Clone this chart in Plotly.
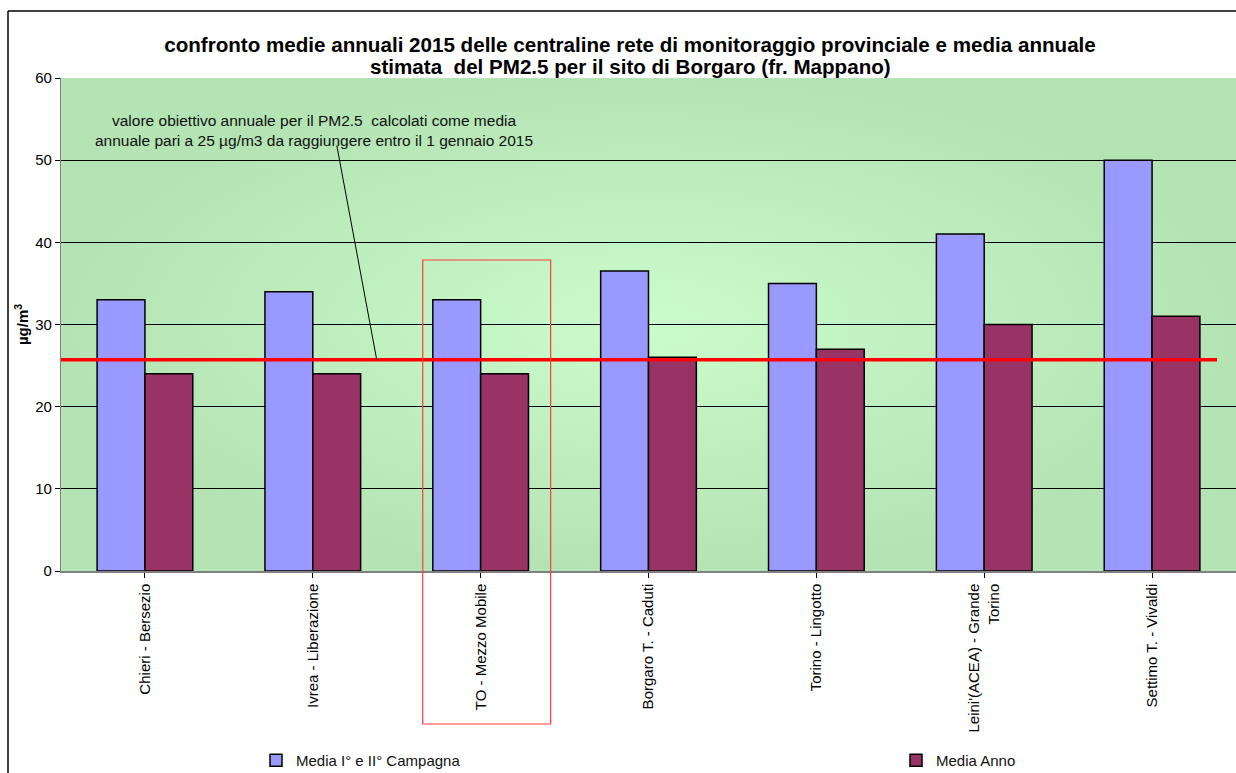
import base64
import plotly.graph_objects as go

# ---- data ----
categories = [
    "Chieri - Bersezio",
    "Ivrea - Liberazione",
    "TO - Mezzo Mobile",
    "Borgaro T. - Caduti",
    "Torino - Lingotto",
    "Leini'(ACEA) - Grande<br>Torino",
    "Settimo T. - Vivaldi",
]
media_campagne = [33, 34, 33, 36.5, 35, 41, 50]
media_anno = [24, 24, 24, 26, 27, 30, 31]
valore_obiettivo_linea = 25.7
y_ticks = [0, 10, 20, 30, 40, 50, 60]

title_line1 = "confronto medie annuali 2015 delle centraline rete di monitoraggio provinciale e media annuale"
title_line2 = "stimata  del PM2.5 per il sito di Borgaro (fr. Mappano)"
note_text = ("valore obiettivo annuale per il PM2.5  calcolati come media<br>"
             "annuale pari a 25 µg/m3 da raggiungere entro il 1 gennaio 2015")

x_idx = list(range(len(categories)))

W, H = 1236, 773
L, R, T, B = 61, 0, 78, 202
PW, PH = W - L - R, H - T - B


def px_x(px):
    return (px - L) / PW


def px_y(py):
    return (H - B - py) / PH


# radial gradient background for the plot area
svg = ('<svg xmlns="http://www.w3.org/2000/svg" width="1175" height="493" viewBox="0 0 1175 493" preserveAspectRatio="none">'
       '<defs><radialGradient id="g" cx="50%" cy="50%" r="50%">'
       '<stop offset="0%" stop-color="#cbfccb"/><stop offset="100%" stop-color="#b4e3b4"/>'
       '</radialGradient></defs><rect width="1175" height="493" fill="url(#g)"/></svg>')
bg_src = "data:image/svg+xml;base64," + base64.b64encode(svg.encode()).decode()

fig = go.Figure()
fig.add_trace(go.Bar(
    x=x_idx, y=media_campagne, name="Media I° e II° Campagna",
    marker=dict(color="#9999ff", line=dict(color="#000000", width=1.5)),
    legend="legend",
))
fig.add_trace(go.Bar(
    x=x_idx, y=media_anno, name="Media Anno",
    marker=dict(color="#993366", line=dict(color="#000000", width=1.5)),
    legend="legend2",
))

legend_common = dict(orientation="h", xanchor="left", yanchor="top",
                     font=dict(size=15, color="#111111"), itemwidth=30,
                     bgcolor="rgba(0,0,0,0)")

fig.update_layout(
    width=W, height=H,
    margin=dict(l=L, r=R, t=T, b=B, autoexpand=False),
    paper_bgcolor="white",
    plot_bgcolor="#bde9bd",
    barmode="group",
    bargap=0.43,
    bargroupgap=0,
    font=dict(family="Liberation Sans, Arial, sans-serif", size=14, color="#000000"),
    title=dict(text="<b>" + title_line1 + "</b>", x=px_x(630), xref="paper", xanchor="center",
               y=1 - 45 / H, yref="container", yanchor="middle",
               font=dict(size=20.6, color="#000000")),
    showlegend=True,
    legend=dict(x=px_x(256), y=px_y(744), **legend_common),
    legend2=dict(x=px_x(896), y=px_y(744), **legend_common),
    images=[dict(source=bg_src, xref="paper", yref="paper", x=0, y=1,
                 sizex=1, sizey=1, sizing="stretch", layer="below")],
)

fig.update_xaxes(
    tickmode="array", tickvals=x_idx, ticktext=categories,
    tickangle=-90, tickson="boundaries", ticks="outside", ticklen=5,
    tickcolor="#000000", range=[-0.5, len(categories) - 0.5],
    showline=True, linecolor="#808080", linewidth=1.5,
    showgrid=False, tickfont=dict(size=15),
)
fig.update_yaxes(
    range=[0, 60], tickvals=y_ticks, ticks="outside", ticklen=5,
    tickcolor="#000000", showline=True, linecolor="#808080", linewidth=1.2,
    showgrid=True, gridcolor="#000000", gridwidth=1, zeroline=False,
    tickfont=dict(size=15),
    title=dict(text="<b>µg/m<sup>3</sup></b>", font=dict(size=15), standoff=2),
)

# second title line
fig.add_annotation(text="<b>" + title_line2 + "</b>", xref="paper", yref="paper",
                   x=px_x(630), y=px_y(66), showarrow=False, xanchor="center",
                   yanchor="middle", font=dict(size=20.6, color="#000000"))

# target line
fig.add_shape(type="line", xref="paper", yref="y", x0=0, x1=px_x(1217),
              y0=valore_obiettivo_linea, y1=valore_obiettivo_linea,
              line=dict(color="#ff0000", width=3.5))
# callout line
fig.add_shape(type="line", xref="x", yref="y", x0=1.143, y0=51.8, x1=1.381,
              y1=valore_obiettivo_linea, line=dict(color="#000000", width=1))
fig.add_annotation(text=note_text, xref="x", yref="y", x=1.01, y=53.6,
                   showarrow=False, xanchor="center", yanchor="middle",
                   font=dict(size=15.5, color="#111111"), align="center")
# highlight box around TO - Mezzo Mobile
fig.add_shape(type="rect", xref="x", yref="paper",
              x0=1.655, x1=2.417, y0=px_y(724), y1=px_y(260),
              line=dict(color="#ff3b3b", width=1.2), fillcolor="rgba(0,0,0,0)")
# outer frame (top and left visible)
fig.add_shape(type="line", xref="paper", yref="paper",
              x0=px_x(8), x1=px_x(1240), y0=px_y(11), y1=px_y(11),
              line=dict(color="#000000", width=1.5))
fig.add_shape(type="line", xref="paper", yref="paper",
              x0=px_x(8), x1=px_x(8), y0=px_y(11), y1=px_y(780),
              line=dict(color="#000000", width=1.5))

fig.write_html(
    "out.html",
    config={"displayModeBar": False},
    post_script="document.body.style.margin='0';document.body.style.overflow='hidden';",
)
